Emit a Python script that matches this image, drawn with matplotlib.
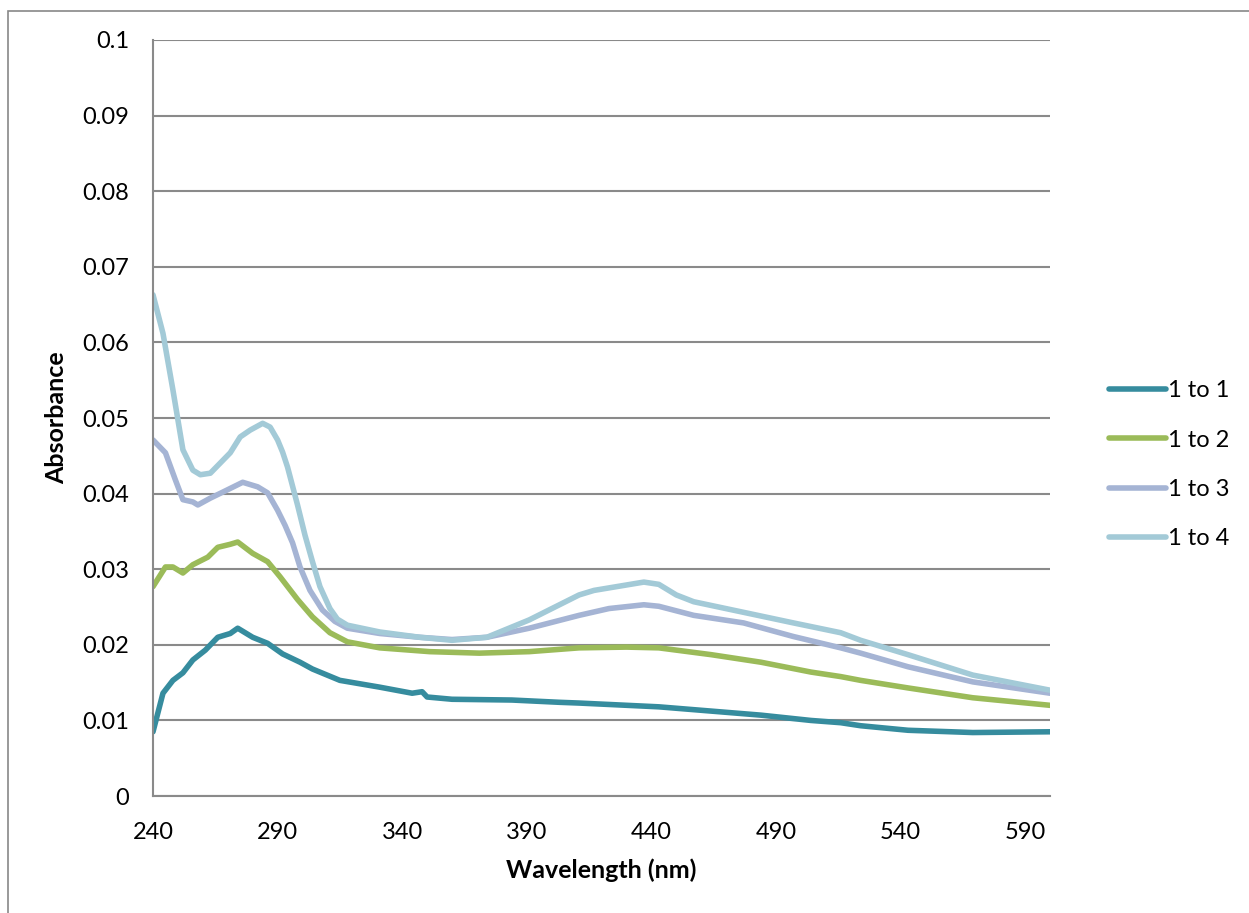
import matplotlib.pyplot as plt
from matplotlib.patches import Rectangle

# absorbance spectra, values read at the listed wavelengths (nm)
wl_11 = [240, 244, 248, 252, 256, 261, 266, 271, 274, 280, 286, 292, 299, 304, 315, 331,
         344, 348, 350, 360, 384, 403, 411, 443, 484, 504, 516, 524, 543, 569, 600]
abs_11 = [0.0085, 0.0136, 0.0153, 0.0163, 0.018, 0.0193, 0.021, 0.0215, 0.0222, 0.021, 0.0202,
          0.0188, 0.0177, 0.0168, 0.0153, 0.0144, 0.0136, 0.0138, 0.0131, 0.0128, 0.0127, 0.0124,
          0.0123, 0.0118, 0.0107, 0.0100, 0.0097, 0.0093, 0.0087, 0.0084, 0.0085]

wl_12 = [240, 245, 248, 252, 256, 262, 266, 271, 274, 280, 286, 291, 298, 304, 311, 318, 331,
         351, 371, 391, 411, 430, 443, 464, 484, 504, 516, 524, 543, 569, 600]
abs_12 = [0.0277, 0.0303, 0.0303, 0.0295, 0.0306, 0.0316, 0.0329, 0.0333, 0.0336, 0.0321, 0.031,
          0.029, 0.026, 0.0237, 0.0216, 0.0204, 0.0196, 0.0191, 0.0189, 0.0191, 0.0196, 0.0197,
          0.0196, 0.0187, 0.0177, 0.0164, 0.0158, 0.0153, 0.0143, 0.013, 0.012]

wl_13 = [240, 245, 249, 252, 256, 258, 263, 268, 276, 282, 286, 290, 293, 296, 299, 303, 308,
         313, 318, 331, 347, 360, 374, 391, 411, 423, 437, 443, 457, 477, 497, 516, 524, 543,
         569, 600]
abs_13 = [0.0471, 0.0454, 0.0418, 0.0392, 0.0389, 0.0385, 0.0394, 0.0402, 0.0415, 0.0409, 0.0401,
          0.0378, 0.0358, 0.0335, 0.0303, 0.0272, 0.0246, 0.0231, 0.0222, 0.0215, 0.021, 0.0207,
          0.021, 0.0222, 0.0239, 0.0248, 0.0253, 0.0251, 0.0239, 0.0229, 0.0211, 0.0196, 0.0189,
          0.0171, 0.0151, 0.0136]

wl_14 = [240, 244, 248, 252, 256, 259, 263, 271, 275, 279, 284, 287, 290, 292, 294, 296, 298,
         301, 304, 307, 311, 314, 318, 331, 347, 360, 374, 391, 411, 417, 437, 443, 450, 457,
         477, 497, 516, 524, 543, 569, 600]
abs_14 = [0.0663, 0.0612, 0.0537, 0.0458, 0.0431, 0.0425, 0.0427, 0.0454, 0.0475, 0.0484, 0.0493,
          0.0488, 0.0471, 0.0455, 0.0435, 0.041, 0.0385, 0.0345, 0.031, 0.0277, 0.0248, 0.0234,
          0.0226, 0.0217, 0.021, 0.0206, 0.021, 0.0233, 0.0266, 0.0272, 0.0283, 0.028, 0.0266,
          0.0257, 0.0243, 0.0229, 0.0216, 0.0206, 0.0187, 0.016, 0.014]

labels = ['1 to 1', '1 to 2', '1 to 3', '1 to 4']
colors = ['#368C9E', '#9BBB59', '#A5B4D4', '#A3CAD7']

plt.rcParams['font.family'] = ['Lato', 'DejaVu Sans']
plt.rcParams['font.size'] = 17

fig = plt.figure(figsize=(12.49, 9.13), dpi=100)
ax = fig.add_axes([0.1225, 0.1281, 0.7182, 0.8281])

# thin frame around the whole chart
fig.patches.append(Rectangle((8 / 1249, -0.1), 1.2, 1.1 - 11 / 913,
                             transform=fig.transFigure, fill=False,
                             edgecolor='#888888', linewidth=1.2))

series = [(wl_11, abs_11), (wl_12, abs_12), (wl_13, abs_13), (wl_14, abs_14)]
for (x, y), lab, c in zip(series, labels, colors):
    ax.plot(x, y, color=c, linewidth=4, label=lab, solid_capstyle='round',
            solid_joinstyle='round')

ax.set_xlim(240, 600)
ax.set_ylim(0, 0.1)
ax.set_xticks(range(240, 600, 50))
ax.set_yticks([i / 100 for i in range(11)])
ax.set_yticklabels(['0'] + ['%g' % (i / 100) for i in range(1, 11)])

ax.yaxis.grid(True, color='#8a8a8a', linewidth=1.5)
ax.set_axisbelow(True)
for side in ['top', 'right']:
    ax.spines[side].set_visible(False)
for side in ['left', 'bottom']:
    ax.spines[side].set_color('#8a8a8a')
    ax.spines[side].set_linewidth(1.5)
ax.tick_params(length=0)
ax.tick_params(axis='y', pad=17)
ax.tick_params(axis='x', pad=19)

ax.set_xlabel('Wavelength (nm)', fontweight='bold', fontsize=18, labelpad=11)
ax.set_ylabel('Absorbance', fontweight='bold', fontsize=18, labelpad=10)

ax.legend(loc='center left', bbox_to_anchor=(1.042, 0.438), frameon=False,
          handlelength=2.4, handletextpad=0.12, labelspacing=1.2)

fig.savefig('out.png', dpi=100)
